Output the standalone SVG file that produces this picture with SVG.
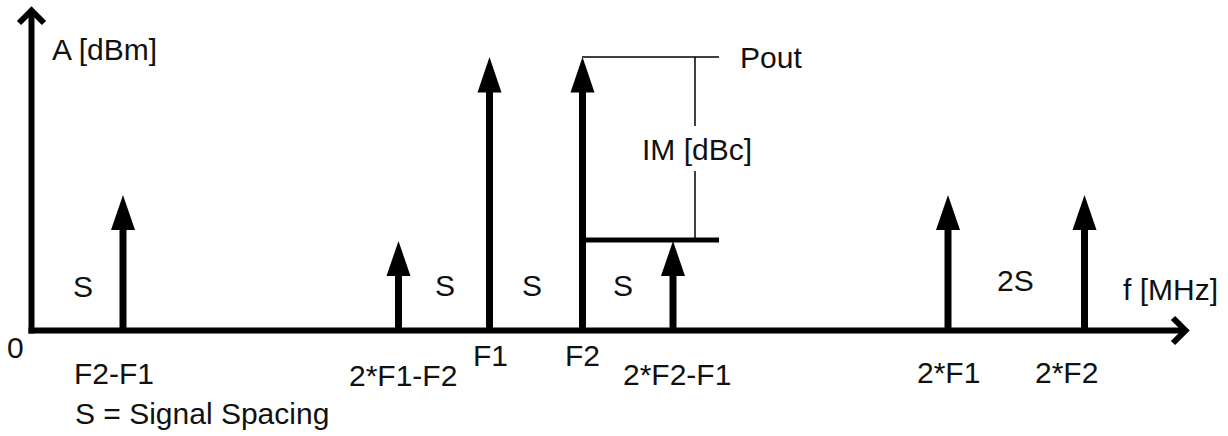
<svg xmlns="http://www.w3.org/2000/svg" width="1228" height="436" viewBox="0 0 1228 436">
<style>
  text { font-family: "Liberation Sans", Arial, sans-serif; font-size: 30px; fill: #111; }
  .axis { stroke: #000; stroke-width: 6; fill: none; }
  .chev { stroke: #000; stroke-width: 6; fill: none; stroke-linejoin: miter; stroke-linecap: butt; }
  .stem { stroke: #000; stroke-width: 7; }
  .head { fill: #000; }
  .thin { stroke: #000; stroke-width: 1.5; fill: none; }
  .level { stroke: #000; stroke-width: 5; fill: none; }
</style>
<rect width="1228" height="436" fill="#fff"/>
<g id="axes">
  <line class="axis" x1="31.5" y1="12" x2="31.5" y2="333.5"/>
  <polyline class="chev" points="19,23 31.5,10.5 44,23"/>
  <line class="axis" x1="28.5" y1="330.5" x2="1184" y2="330.5"/>
  <polyline class="chev" points="1173,318 1185.5,330.5 1173,343"/>
  <text x="52" y="60">A [dBm]</text>
  <text x="1123" y="300">f [MHz]</text>
  <text x="7" y="358">0</text>
</g>
<g id="spike-f2-f1">
  <line class="stem" x1="123" y1="330" x2="123" y2="228"/>
  <polygon class="head" points="123,195 111,230 135,230"/>
  <text x="74" y="384">F2-F1</text>
</g>
<g id="spike-2f1-f2">
  <line class="stem" x1="398.5" y1="330" x2="398.5" y2="274"/>
  <polygon class="head" points="398.5,241 386.5,276 410.5,276"/>
  <text x="349" y="386">2*F1-F2</text>
</g>
<g id="spike-f1">
  <line class="stem" x1="489.5" y1="330" x2="489.5" y2="90"/>
  <polygon class="head" points="489.5,57 477.5,92.5 501.5,92.5"/>
  <text x="473" y="366">F1</text>
</g>
<g id="spike-f2">
  <line class="stem" x1="582.5" y1="330" x2="582.5" y2="90"/>
  <polygon class="head" points="582.5,57 570.5,92.5 594.5,92.5"/>
  <text x="565" y="366">F2</text>
</g>
<g id="spike-2f2-f1">
  <line class="stem" x1="673" y1="330" x2="673" y2="274"/>
  <polygon class="head" points="673,241 661,276 685,276"/>
  <text x="623" y="385">2*F2-F1</text>
</g>
<g id="spike-2f1">
  <line class="stem" x1="948" y1="330" x2="948" y2="228"/>
  <polygon class="head" points="948,195 936,230 960,230"/>
  <text x="917" y="383">2*F1</text>
</g>
<g id="spike-2f2">
  <line class="stem" x1="1084.5" y1="330" x2="1084.5" y2="228"/>
  <polygon class="head" points="1084.5,195 1072.5,230 1096.5,230"/>
  <text x="1035" y="383">2*F2</text>
</g>
<g id="im-measure">
  <line class="thin" x1="582" y1="57" x2="719" y2="57"/>
  <line class="level" x1="585" y1="240" x2="719" y2="240"/>
  <line class="thin" x1="695" y1="57" x2="695" y2="126"/>
  <line class="thin" x1="695" y1="171" x2="695" y2="240"/>
  <text x="642" y="160">IM [dBc]</text>
  <text x="740" y="68">Pout</text>
</g>
<g id="spacing-labels">
  <text x="73" y="297">S</text>
  <text x="435" y="296">S</text>
  <text x="522" y="296">S</text>
  <text x="613" y="296">S</text>
  <text x="997" y="291">2S</text>
  <text x="75" y="424">S = Signal Spacing</text>
</g>
</svg>
